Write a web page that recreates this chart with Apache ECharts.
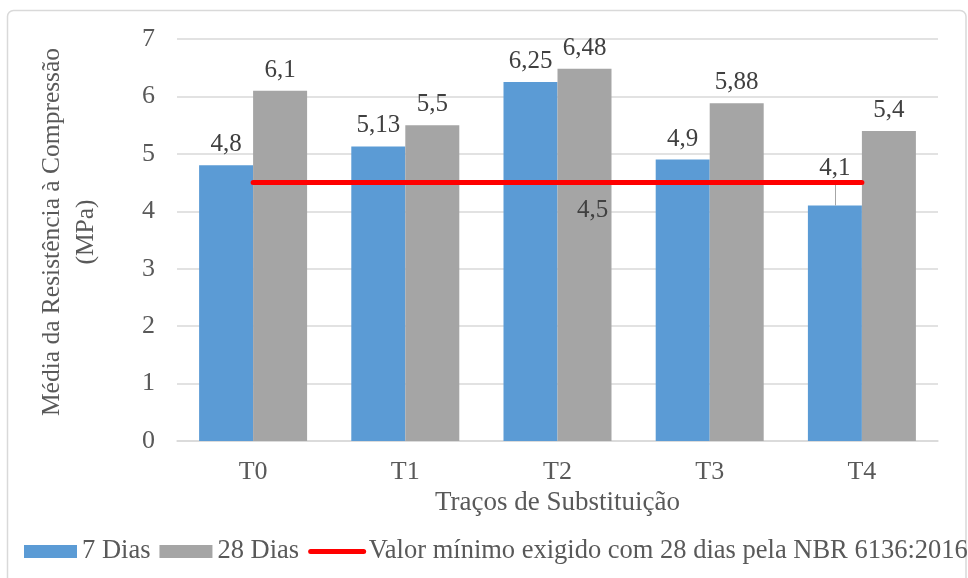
<!DOCTYPE html>
<html>
<head>
<meta charset="utf-8">
<script src="https://cdn.jsdelivr.net/npm/echarts@6/dist/echarts.min.js"></script>
<style>html,body{margin:0;padding:0;background:#fff}#c{width:968px;height:578px}</style>
</head>
<body>
<div id="c"></div>
<script>
var categories = ['T0', 'T1', 'T2', 'T3', 'T4'];
var dias7 = [4.8, 5.13, 6.25, 4.9, 4.1];
var dias28 = [6.1, 5.5, 6.48, 5.88, 5.4];
var minimo = [4.5, 4.5, 4.5, 4.5, 4.5];
var minimoLabelIndex = 2;
var movedLabelIndex = 4;
var seriesNames = ['7 Dias', '28 Dias', 'Valor mínimo exigido com 28 dias pela NBR 6136:2016'];
var yTicks = { min: 0, max: 7, interval: 1 };

function fmt(v) { return String(v).replace('.', ','); }

var FONT = 'Liberation Serif';
var BAR_W = 54;
var chart = echarts.init(document.getElementById('c'), null, { renderer: 'canvas' });

var option = {
  backgroundColor: '#ffffff',
  animation: false,
  textStyle: { fontFamily: FONT },
  graphic: [{
    type: 'rect', silent: true, z: -1,
    shape: { x: 7.5, y: 10.5, width: 958.5, height: 600, r: 6 },
    style: { fill: 'none', stroke: '#d9d9d9', lineWidth: 1.5 }
  }],
  grid: { left: 177, right: 30, top: 39, bottom: 137, containLabel: false },
  legend: {
    left: 19, top: 533, width: 960,
    itemWidth: 53, itemHeight: 13, itemGap: 9,
    textStyle: { fontFamily: FONT, fontSize: 26.5, color: '#595959' },
    data: [
      { name: seriesNames[0], icon: 'rect' },
      { name: seriesNames[1], icon: 'rect' },
      { name: seriesNames[2], itemStyle: { opacity: 0 }, lineStyle: { width: 5, cap: 'round', color: '#FF0000' } }
    ]
  },
  xAxis: {
    type: 'category', data: categories,
    name: 'Traços de Substituição', nameLocation: 'middle', nameGap: 39,
    nameTextStyle: { fontFamily: FONT, fontSize: 27, color: '#595959' },
    axisLine: { lineStyle: { color: '#d9d9d9', width: 1.5 } },
    axisTick: { show: false },
    axisLabel: { fontFamily: FONT, fontSize: 26, color: '#595959', margin: 18 }
  },
  yAxis: {
    type: 'value', min: yTicks.min, max: yTicks.max, interval: yTicks.interval,
    name: 'Média da Resistência à Compressão\n(MPa)', nameLocation: 'middle', nameRotate: 90, nameGap: 74,
    nameTextStyle: { fontFamily: FONT, fontSize: 25.5, color: '#595959', lineHeight: 34, align: 'center', padding: [0, 0, 0, 16] },
    axisLine: { show: false }, axisTick: { show: false },
    splitLine: { lineStyle: { color: '#d9d9d9', width: 1.5 } },
    axisLabel: { fontFamily: FONT, fontSize: 26, color: '#595959', margin: 22 }
  },
  series: [
    {
      name: seriesNames[0], type: 'bar', barWidth: BAR_W, barGap: '0%',
      data: dias7,
      itemStyle: { color: '#5B9BD5' },
      label: { show: true, position: 'top', distance: 8, fontFamily: FONT, fontSize: 25, color: '#404040', formatter: function (p) { return fmt(p.value); } },
      labelLayout: function (p) { return p.dataIndex === movedLabelIndex ? { dy: -17 } : {}; }
    },
    {
      name: seriesNames[1], type: 'bar', data: dias28, barWidth: BAR_W,
      itemStyle: { color: '#A5A5A5' },
      label: { show: true, position: 'top', distance: 8, fontFamily: FONT, fontSize: 25, color: '#404040', formatter: function (p) { return fmt(p.value); } }
    },
    {
      name: seriesNames[2], type: 'line', symbol: 'none', z: 5,
      data: minimo,
      lineStyle: { color: '#FF0000', width: 5, cap: 'round' },
      itemStyle: { color: '#FF0000' },
      markPoint: {
        symbol: 'circle', symbolSize: 1, silent: true,
        itemStyle: { color: 'rgba(0,0,0,0)' },
        label: { show: true, position: 'bottom', offset: [35, 10], fontFamily: FONT, fontSize: 25, color: '#404040', formatter: function (p) { return fmt(p.value); } },
        data: [{ coord: [minimoLabelIndex, minimo[minimoLabelIndex]], value: minimo[minimoLabelIndex] }]
      }
    },
    {
      name: 'leader', type: 'custom', z: 4, silent: true,
      data: [[movedLabelIndex, dias7[movedLabelIndex]]],
      renderItem: function (params, api) {
        var p = api.coord([api.value(0), api.value(1)]);
        var x = Math.round(p[0] - BAR_W / 2) + 0.5;
        return {
          type: 'line',
          shape: { x1: x, y1: p[1], x2: x, y2: p[1] - 24 },
          style: { stroke: '#a6a6a6', lineWidth: 1 }
        };
      }
    }
  ]
};
chart.setOption(option);
</script>
</body>
</html>
